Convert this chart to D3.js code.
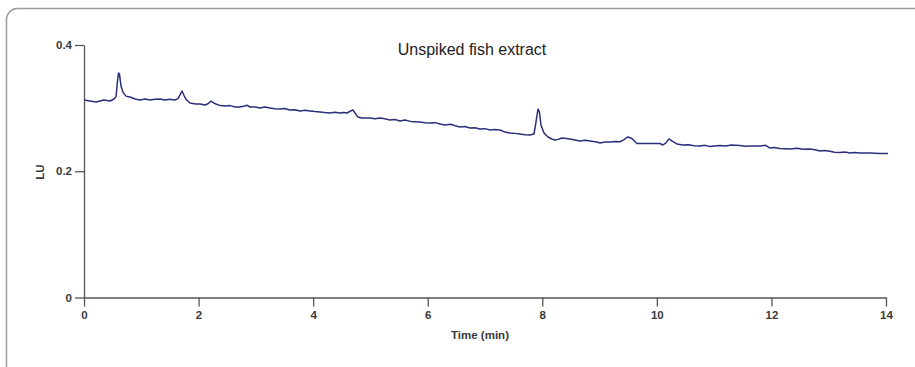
<!DOCTYPE html>
<html>
<head>
<meta charset="utf-8">
<script src="https://cdn.jsdelivr.net/npm/d3@7"></script>
<style>
  body { margin: 0; background: #fff; }
  svg { display: block; }
  .axis path, .axis line { stroke: #555; stroke-width: 1.3; }
  .axis text { font-family: "Liberation Sans Narrow", "Arial Narrow", "Liberation Sans", sans-serif; font-weight: bold; font-size: 11.5px; fill: #3a3a3a; }
</style>
</head>
<body>
<svg id="chart" width="915" height="367"></svg>
<script>
// retention time (min) and fluorescence signal (LU)
const TIME = [0, 0.105, 0.209, 0.349, 0.454, 0.524, 0.559, 0.576, 0.602, 0.62, 0.646, 0.681, 0.733, 0.803, 0.89, 0.977,
  1.065, 1.152, 1.24, 1.327, 1.414, 1.5, 1.588, 1.641, 1.676, 1.711, 1.746, 1.78, 1.85, 1.95, 2.025, 2.112, 2.164, 2.217, 2.27,
  2.304, 2.38, 2.461, 2.55, 2.64, 2.723, 2.8, 2.845, 2.9, 2.985, 3.07, 3.159, 3.247, 3.33, 3.421, 3.5, 3.596, 3.68, 3.77,
  3.86, 3.945, 4.03, 4.12, 4.2, 4.294, 4.38, 4.469, 4.53, 4.591, 4.643, 4.695, 4.748, 4.783, 4.85, 4.992, 5.08, 5.167,
  5.25, 5.341, 5.43, 5.516, 5.603, 5.7, 5.865, 5.95, 6.039, 6.13, 6.214, 6.301, 6.4, 6.48, 6.563, 6.65, 6.738, 6.82,
  6.912, 7.0, 7.087, 7.17, 7.261, 7.35, 7.436, 7.52, 7.61, 7.7, 7.785, 7.855, 7.89, 7.925, 7.95, 7.977, 8.03, 8.1,
  8.165, 8.221, 8.28, 8.343, 8.42, 8.483, 8.57, 8.658, 8.75, 8.832, 8.954, 9.007, 9.1, 9.181, 9.27, 9.356, 9.426, 9.496,
  9.565, 9.653, 9.75, 9.85, 9.95, 10.054, 10.106, 10.158, 10.211, 10.281, 10.351, 10.455, 10.55, 10.65, 10.752, 10.84,
  10.927, 11.01, 11.101, 11.2, 11.3, 11.45, 11.55, 11.65, 11.799, 11.9, 11.974, 12.05, 12.15, 12.323, 12.45, 12.55,
  12.672, 12.76, 12.847, 12.93, 13.021, 13.1, 13.196, 13.28, 13.37, 13.45, 13.545, 13.63, 13.719, 13.8, 13.894, 14.034];
const LU = [0.3129, 0.3113, 0.3097, 0.3129, 0.3113, 0.3145, 0.3180, 0.3350, 0.3556, 0.3540, 0.3350, 0.3250, 0.3190, 0.3176, 0.3145, 0.3129,
  0.3145, 0.3129, 0.3140, 0.3145, 0.3129, 0.3140, 0.3129, 0.3150, 0.3210, 0.3271, 0.3200, 0.3140, 0.3080, 0.3065, 0.3065, 0.3050, 0.3070, 0.3110, 0.3080,
  0.3065, 0.3040, 0.3034, 0.3040, 0.3018, 0.3018, 0.3034, 0.3045, 0.3018, 0.3018, 0.3002, 0.3018, 0.3002, 0.2990, 0.2986, 0.2995, 0.2970, 0.2975, 0.2955,
  0.2965, 0.2955, 0.2945, 0.2939, 0.2930, 0.2923, 0.2935, 0.2923, 0.2930, 0.2923, 0.2950, 0.2970, 0.2900, 0.2860, 0.2844, 0.2844, 0.2830, 0.2844,
  0.2830, 0.2812, 0.2820, 0.2796, 0.2812, 0.2790, 0.2780, 0.2770, 0.2764, 0.2770, 0.2749, 0.2733, 0.2745, 0.2720, 0.2701, 0.2710, 0.2685, 0.2690,
  0.2669, 0.2675, 0.2654, 0.2660, 0.2654, 0.2620, 0.2606, 0.2600, 0.2590, 0.2580, 0.2574, 0.2590, 0.2780, 0.2986, 0.2940, 0.2733, 0.2606, 0.2543,
  0.2511, 0.2495, 0.2505, 0.2527, 0.2520, 0.2511, 0.2495, 0.2479, 0.2490, 0.2479, 0.2463, 0.2448, 0.2463, 0.2463, 0.2470, 0.2468, 0.2500, 0.2543,
  0.2520, 0.2440, 0.2440, 0.2440, 0.2440, 0.2440, 0.2416, 0.2450, 0.2511, 0.2470, 0.2432, 0.2416, 0.2420, 0.2405, 0.2400, 0.2410,
  0.2392, 0.2400, 0.2408, 0.2400, 0.2415, 0.2408, 0.2395, 0.2400, 0.2400, 0.2410, 0.2368, 0.2375, 0.2360, 0.2353, 0.2365, 0.2350,
  0.2353, 0.2340, 0.2321, 0.2330, 0.2316, 0.2300, 0.2297, 0.2305, 0.2289, 0.2297, 0.2289, 0.2290, 0.2289, 0.2285, 0.2281, 0.2281];
const X_TICKS = [0, 2, 4, 6, 8, 10, 12, 14];
const Y_TICKS = [0, 0.2, 0.4];
const TITLE = 'Unspiked fish extract';
const X_LABEL = 'Time (min)';
const Y_LABEL = 'LU';

const svg = d3.select('#chart');
const data = TIME.map((t, i) => [t, LU[i]]);

// outer frame, only the top-left rounded corner shows in the picture
svg.append('rect')
  .attr('x', 6.5).attr('y', 8.5)
  .attr('width', 930).attr('height', 380)
  .attr('rx', 11)
  .attr('fill', 'none')
  .attr('stroke', '#9a9a9a')
  .attr('stroke-width', 1.5);

const x = d3.scaleLinear().domain([0, 14]).range([84, 886]);
const y = d3.scaleLinear().domain([0, 0.4]).range([297.5, 45]);

svg.append('g').attr('class', 'axis')
  .attr('transform', 'translate(0,297.5)')
  .call(d3.axisBottom(x).tickValues(X_TICKS).tickSize(9).tickPadding(4).tickSizeOuter(0).tickFormat(d3.format('d')));

svg.append('g').attr('class', 'axis')
  .attr('transform', 'translate(84,0)')
  .call(d3.axisLeft(y).tickValues(Y_TICKS).tickSize(9).tickPadding(3).tickSizeOuter(0).tickFormat(d => d === 0 ? '0' : d3.format('.1f')(d)));

svg.append('path')
  .datum(data)
  .attr('fill', 'none')
  .attr('stroke', '#2b2f7a')
  .attr('stroke-width', 1.5)
  .attr('stroke-linejoin', 'round')
  .attr('d', d3.line().x(d => x(d[0])).y(d => y(d[1])));

svg.append('text')
  .attr('x', 472).attr('y', 55)
  .attr('text-anchor', 'middle')
  .style('font-family', '"Liberation Sans Narrow", "Arial Narrow", "Liberation Sans", sans-serif')
  .style('font-size', '16px')
  .style('fill', '#222')
  .text(TITLE);

svg.append('text')
  .attr('x', 480).attr('y', 339)
  .attr('text-anchor', 'middle')
  .style('font-family', '"Liberation Sans Narrow", "Arial Narrow", "Liberation Sans", sans-serif')
  .style('font-weight', 'bold')
  .style('font-size', '11.5px')
  .style('fill', '#3a3a3a')
  .text(X_LABEL);

svg.append('text')
  .attr('transform', 'translate(44,172) rotate(-90)')
  .attr('text-anchor', 'middle')
  .style('font-family', '"Liberation Sans Narrow", "Arial Narrow", "Liberation Sans", sans-serif')
  .style('font-weight', 'bold')
  .style('font-size', '11.5px')
  .style('fill', '#3a3a3a')
  .text(Y_LABEL);
</script>
</body>
</html>
